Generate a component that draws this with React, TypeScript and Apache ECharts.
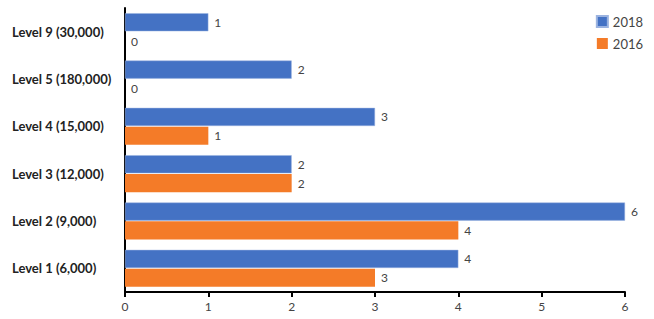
import React, { useEffect, useRef } from "react";
import * as echarts from "echarts";

const categories = [
  "Level 1 (6,000)",
  "Level 2 (9,000)",
  "Level 3 (12,000)",
  "Level 4 (15,000)",
  "Level 5 (180,000)",
  "Level 9 (30,000)",
];
const values2018 = [4, 6, 2, 3, 2, 1];
const values2016 = [3, 4, 2, 1, 0, 0];
const xTicks = [0, 1, 2, 3, 4, 5, 6];

const FONT = "Lato, 'Open Sans', sans-serif";

export default function App() {
  const ref = useRef<HTMLDivElement>(null);
  useEffect(() => {
    if (!ref.current) return;
    const chart = echarts.init(ref.current, undefined, { renderer: "svg" });
    const label = {
      show: true,
      position: "right",
      distance: 6,
      color: "#444",
      fontSize: 12,
      fontFamily: FONT,
    };
    chart.setOption({
      animation: false,
      textStyle: { fontFamily: FONT },
      legend: {
        orient: "vertical",
        right: 6,
        top: 10,
        itemWidth: 11,
        itemHeight: 11,
        itemGap: 9,
        icon: "rect",
        textStyle: { fontSize: 13, color: "#444", fontFamily: FONT },
        data: ["2018", "2016"],
      },
      grid: { left: 125, right: 29, top: 8, bottom: 27, containLabel: false },
      xAxis: {
        type: "value",
        min: xTicks[0],
        max: xTicks[xTicks.length - 1],
        interval: 1,
        axisLine: { show: true, lineStyle: { color: "#000", width: 2 } },
        axisTick: { show: true, length: 5, lineStyle: { color: "#000", width: 2 } },
        axisLabel: { color: "#444", fontSize: 12, margin: 8, fontFamily: FONT },
        splitLine: { show: false },
      },
      yAxis: {
        type: "category",
        data: categories,
        axisLine: { show: true, lineStyle: { color: "#000", width: 2 } },
        axisTick: { show: false },
        axisLabel: {
          color: "#222",
          fontSize: 13,
          fontWeight: "bold",
          margin: 113,
          fontFamily: FONT,
          align: "left",
        },
      },
      series: [
        {
          name: "2018",
          type: "bar",
          data: values2018,
          itemStyle: { color: "#4472C4", borderColor: "#9bb3e0", borderWidth: 0.5 },
          barGap: "4%",
          barCategoryGap: "22%",
          label,
        },
        {
          name: "2016",
          type: "bar",
          data: values2016,
          itemStyle: { color: "#F47B28" },
          barGap: "4%",
          barCategoryGap: "22%",
          label,
        },
      ],
    });
    return () => chart.dispose();
  }, []);
  return <div ref={ref} style={{ width: 654, height: 319, position: "absolute", left: 0, top: 0 }} />;
}
